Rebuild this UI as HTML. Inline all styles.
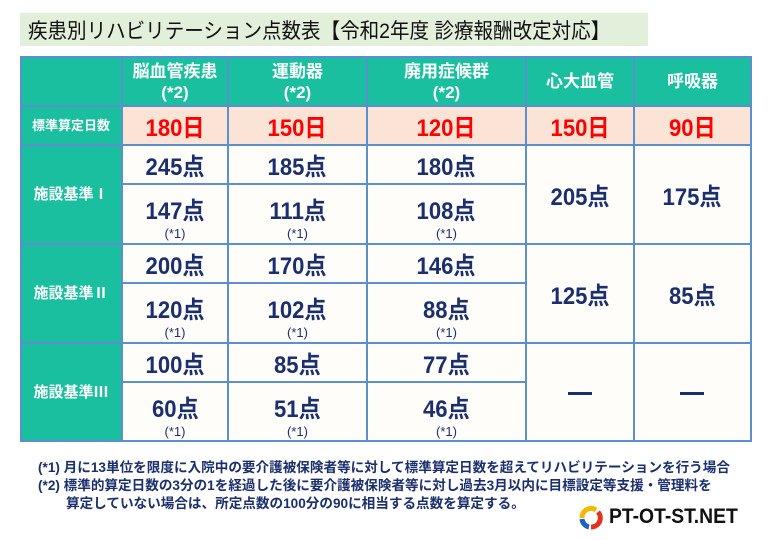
<!DOCTYPE html><html><head><meta charset="utf-8"><style>
body{margin:0;width:768px;height:540px;background:#fff;position:relative;overflow:hidden;font-family:"Liberation Sans","Noto Sans CJK JP",sans-serif;}
.a{position:absolute;box-sizing:border-box;}
.c{position:absolute;box-sizing:border-box;display:flex;flex-direction:column;align-items:center;justify-content:center;text-align:center;}
.t{background:#1abf9f;color:#fff;font-size:17px;line-height:21px;font-weight:bold;}
.p{background:#fbe4d6;color:#f00;font-size:24px;font-weight:bold;}
.w{background:#fffdfa;color:#1b2f6e;font-size:24px;font-weight:bold;}
.n{display:inline-block;transform:scaleX(0.92);}
.s{font-size:13px;font-weight:normal;line-height:14px;margin-top:1px}
.hl{position:absolute;height:2px;background:#5b8fd0}
.vl{position:absolute;width:2px;background:#5b8fd0}
.f{position:absolute;color:#1b2f6e;font-size:13.6px;font-weight:bold;white-space:nowrap}
</style></head><body>
<div class="a" style="left:20px;top:13px;width:628px;height:33px;background:#e2efda;"></div>
<div class="a" style="left:28px;top:15px;font-size:21px;color:#111;white-space:nowrap;"><span class="n" style="transform-origin:left;transform:scaleX(0.93)">疾患別リハビリテーション点数表【令和2年度 診療報酬改定対応】</span></div>

<div class="c t" style="left:20px;top:57px;width:102px;height:49px"></div>
<div class="c t" style="left:122px;top:57px;width:106px;height:49px">脳血管疾患<span>(*2)</span></div>
<div class="c t" style="left:228px;top:57px;width:139px;height:49px">運動器<span>(*2)</span></div>
<div class="c t" style="left:367px;top:57px;width:159px;height:49px">廃用症候群<span>(*2)</span></div>
<div class="c t" style="left:526px;top:57px;width:108px;height:49px">心大血管</div>
<div class="c t" style="left:634px;top:57px;width:117px;height:49px">呼吸器</div>
<div class="c t" style="left:20px;top:106px;width:102px;height:39px;font-size:13px">標準算定日数</div>
<div class="c p" style="left:122px;top:106px;width:106px;height:39px"><span class="n">180日</span></div>
<div class="c p" style="left:228px;top:106px;width:139px;height:39px"><span class="n">150日</span></div>
<div class="c p" style="left:367px;top:106px;width:159px;height:39px"><span class="n">120日</span></div>
<div class="c p" style="left:526px;top:106px;width:108px;height:39px"><span class="n">150日</span></div>
<div class="c p" style="left:634px;top:106px;width:117px;height:39px"><span class="n">90日</span></div>

<div class="c t" style="left:20px;top:145px;width:102px;height:99px;font-size:15px">施設基準Ⅰ</div>
<div class="c t" style="left:20px;top:244px;width:102px;height:99px;font-size:15px">施設基準Ⅱ</div>
<div class="c t" style="left:20px;top:343px;width:102px;height:98px;font-size:15px">施設基準Ⅲ</div>
<div class="a" style="left:122px;top:145px;width:629px;height:296px;background:#fffdfa"></div>

<div class="c w" style="left:122px;top:145px;width:106px;height:39px"><span class="n">245点</span></div>
<div class="c w" style="left:228px;top:145px;width:139px;height:39px"><span class="n">185点</span></div>
<div class="c w" style="left:367px;top:145px;width:159px;height:39px"><span class="n">180点</span></div>
<div class="c w" style="left:122px;top:188px;width:106px;height:56px"><span class="n">147点</span><span class="s">(*1)</span></div>
<div class="c w" style="left:228px;top:188px;width:139px;height:56px"><span class="n">111点</span><span class="s">(*1)</span></div>
<div class="c w" style="left:367px;top:188px;width:159px;height:56px"><span class="n">108点</span><span class="s">(*1)</span></div>
<div class="c w" style="left:526px;top:145px;width:108px;height:99px"><span class="n">205点</span></div>
<div class="c w" style="left:634px;top:145px;width:117px;height:99px"><span class="n">175点</span></div>
<div class="c w" style="left:122px;top:244px;width:106px;height:39px"><span class="n">200点</span></div>
<div class="c w" style="left:228px;top:244px;width:139px;height:39px"><span class="n">170点</span></div>
<div class="c w" style="left:367px;top:244px;width:159px;height:39px"><span class="n">146点</span></div>
<div class="c w" style="left:122px;top:287px;width:106px;height:56px"><span class="n">120点</span><span class="s">(*1)</span></div>
<div class="c w" style="left:228px;top:287px;width:139px;height:56px"><span class="n">102点</span><span class="s">(*1)</span></div>
<div class="c w" style="left:367px;top:287px;width:159px;height:56px"><span class="n">88点</span><span class="s">(*1)</span></div>
<div class="c w" style="left:526px;top:244px;width:108px;height:99px"><span class="n">125点</span></div>
<div class="c w" style="left:634px;top:244px;width:117px;height:99px"><span class="n">85点</span></div>
<div class="c w" style="left:122px;top:343px;width:106px;height:39px"><span class="n">100点</span></div>
<div class="c w" style="left:228px;top:343px;width:139px;height:39px"><span class="n">85点</span></div>
<div class="c w" style="left:367px;top:343px;width:159px;height:39px"><span class="n">77点</span></div>
<div class="c w" style="left:122px;top:386px;width:106px;height:55px"><span class="n">60点</span><span class="s">(*1)</span></div>
<div class="c w" style="left:228px;top:386px;width:139px;height:55px"><span class="n">51点</span><span class="s">(*1)</span></div>
<div class="c w" style="left:367px;top:386px;width:159px;height:55px"><span class="n">46点</span><span class="s">(*1)</span></div>
<div class="a" style="left:568px;top:392px;width:24px;height:3px;background:#1b2f6e"></div>
<div class="a" style="left:680px;top:392px;width:24px;height:3px;background:#1b2f6e"></div>

<div class="hl" style="left:20px;top:56px;width:732px"></div>
<div class="hl" style="left:20px;top:105px;width:732px"></div>
<div class="hl" style="left:20px;top:144px;width:732px"></div>
<div class="hl" style="left:122px;top:183px;width:404px"></div>
<div class="hl" style="left:20px;top:243px;width:732px"></div>
<div class="hl" style="left:122px;top:282px;width:404px"></div>
<div class="hl" style="left:20px;top:342px;width:732px"></div>
<div class="hl" style="left:122px;top:381px;width:404px"></div>
<div class="hl" style="left:20px;top:440px;width:732px"></div>
<div class="vl" style="left:20px;top:56px;height:386px"></div>
<div class="vl" style="left:121px;top:56px;height:386px"></div>
<div class="vl" style="left:227px;top:56px;height:386px"></div>
<div class="vl" style="left:366px;top:56px;height:386px"></div>
<div class="vl" style="left:525px;top:56px;height:386px"></div>
<div class="vl" style="left:633px;top:56px;height:386px"></div>
<div class="vl" style="left:750px;top:56px;height:386px"></div>

<div class="f" style="left:38px;top:456px">(*1) 月に13単位を限度に入院中の要介護被保険者等に対して標準算定日数を超えてリハビリテーションを行う場合</div>
<div class="f" style="left:38px;top:474px">(*2) 標準的算定日数の3分の1を経過した後に要介護被保険者等に対し過去3月以内に目標設定等支援・管理料を</div>
<div class="f" style="left:66px;top:492px">算定していない場合は、所定点数の100分の90に相当する点数を算定する。</div>

<svg class="a" style="left:576px;top:503px" width="30" height="30" viewBox="0 0 30 30">
<path d="M6 15 A9 9 0 0 1 20 7" stroke="#f5b800" stroke-width="5" fill="none"/>
<path d="M22 9 A9 9 0 0 1 15 24" stroke="#e5321e" stroke-width="5" fill="none"/>
<path d="M13 24 A9 9 0 0 1 6 16" stroke="#1f5fbf" stroke-width="5" fill="none"/>
</svg>
<div class="a" style="left:609px;top:505px;font-size:21px;font-weight:bold;color:#111;white-space:nowrap"><span class="n" style="transform-origin:left;transform:scaleX(0.92)">PT-OT-ST.NET</span></div>
</body></html>
